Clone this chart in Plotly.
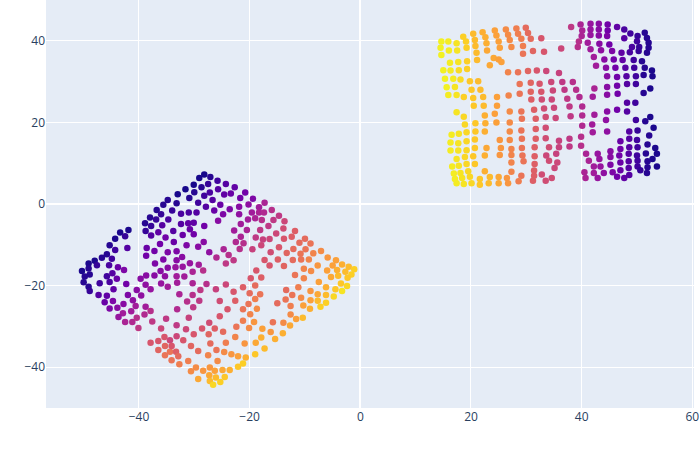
import plotly.graph_objects as go

# ---- left cluster (diamond) ----
left_x = [
-34.8,-35.6,-36.8,-36.0,-38.0,-36.9,-34.7,-38.9,-37.8,-35.8,
-38.8,-36.5,-37.8,-35.2,-41.9,-43.4,-42.5,-44.3,-45.3,-44.3,
-42.1,-38.6,-37.2,-36.2,-34.8,-38.7,-45.8,-46.7,-44.9,-48.0,
-49.1,-47.6,-45.4,-49.1,-43.8,-35.6,-37.1,-34.8,-50.3,-42.7,
-36.1,-38.7,-37.2,-45.8,-44.8,-48.9,-49.8,-39.7,-44.0,-35.3,
-50.0,-49.1,-48.9,-47.1,-45.3,-42.3,-44.6,-47.3,-45.8,-46.2,
-44.7,-45.3,-43.9,-42.8,-42.0,-41.1,-40.6,-41.4,-42.9,-43.7,
-42.5,-41.2,-40.4,-39.0,-38.8,-37.9,-40.4,-39.6,-38.8,-37.9,
-36.0,-34.8,-37.6,-40.1,-36.0,-35.1,-37.9,-36.5,-35.4,-36.5,-35.3,-34.4,-35.3,
-28.2,-29.1,-27.1,-30.1,-28.7,-27.5,-25.8,-31.6,-30.0,-27.2,
-25.7,-24.3,-22.7,-33.0,-30.9,-28.2,-26.7,-24.6,-23.4,-21.7,
-20.8,-19.4,-33.2,-29.3,-27.9,-25.3,-23.6,-26.4,-21.9,-20.2,
-18.3,-17.3,-34.0,-32.4,-31.0,-29.6,-24.8,-21.9,-19.6,-18.3,
-17.4,-25.7,-20.3,-19.0,-17.8,-32.4,-31.1,-30.1,-28.2,-21.6,
-22.8,-20.5,-18.1,-33.8,-32.1,-30.8,-30.1,-18.9,-17.6,-21.6,
-22.5,-21.1,-33.7,-31.4,-29.3,-28.3,-27.3,-21.8,-19.5,-17.9,
-24.7,-23.8,-26.0,-22.9,-24.3,-33.2,-32.2,-33.2,-30.8,-29.2,
-33.4,-32.1,-18.8,-33.2,-31.8,-30.3,-28.4,-19.8,-17.9,
-16.0,-14.7,-15.7,-13.7,-16.6,-15.2,-13.9,-11.8,-16.4,-13.8,
-12.4,-11.0,-10.0,-9.0,-14.7,-16.2,-13.3,-12.1,-10.8,-9.9,
-8.5,-7.1,-5.9,-4.4,-3.3,-2.1,-1.1,-17.3,-14.9,-12.2,
-10.7,-9.3,-7.7,-5.0,-4.2,-2.7,-1.6,-2.3,-16.4,-13.8,
-10.2,-8.9,-6.0,-11.8,-10.2,-5.3,-4.0,
-33.1,-30.3,-27.8,-24.3,-21.2,-19.0,-32.7,-30.3,-28.9,-26.1,
-22.9,-20.0,-18.1,-31.3,-29.1,-25.4,-22.6,-20.2,-19.0,-30.2,
-24.0,-21.2,-18.7,-33.1,-19.9,-31.0,-25.4,-27.3,-26.3,-33.2,
-31.5,-28.6,-27.4,-24.8,-22.4,-21.2,-20.1,-19.2,-17.7,-33.2,
-32.0,-30.1,-27.1,-26.0,-24.3,-22.6,-20.9,-18.9,-17.9,-34.4,
-34.1,-33.3,-30.6,-29.3,-34.1,-32.9,-31.1,-27.5,-25.8,-24.6,
-23.3,-22.1,-20.7,-19.0,-32.7,-29.7,-28.4,-27.2,-26.3,-24.9,
-23.6,-22.1,-21.2,-30.6,-29.3,-27.3,-27.2,-26.1,-25.3,-24.5,-26.6,
-7.5,-3.5,-11.2,-6.2,-4.5,-2.4,-3.3,-13.4,-12.3,-9.0,
-7.7,-6.2,-4.8,-10.7,-13.5,-9.0,-7.7,-6.2,-15.0,-12.6,
-10.3,-9.1,-7.2,-12.6,-11.6,-10.4,-15.8,-13.9,-12.7,-16.2,
-14.0,-15.4,-17.3,
]
left_y = [
1.0,-0.2,-1.5,-2.5,-3.3,-3.8,-3.8,-4.7,-5.4,-5.2,
-6.6,-6.9,-7.7,-8.2,-6.4,-7.0,-7.9,-8.5,-10.1,-11.3,
-10.8,-10.8,-11.5,-9.8,-11.8,-12.7,-12.3,-13.2,-13.4,-13.9,
-14.6,-15.0,-15.0,-15.8,-15.5,-13.6,-14.6,-15.6,-16.4,-16.2,
-16.4,-17.5,-17.5,-17.7,-17.0,-17.3,-17.8,-18.3,-18.3,-17.7,
-19.2,-20.3,-21.3,-19.4,-19.1,-19.6,-20.9,-22.3,-22.5,-24.1,
-23.8,-25.6,-25.4,-24.5,-22.3,-23.6,-25.0,-26.3,-26.8,-27.7,
-28.9,-28.9,-27.9,-27.1,-25.2,-26.2,-21.1,-22.4,-19.8,-20.9,
-19.5,-20.3,-28.8,-30.4,-30.5,-28.1,-34.0,-33.6,-32.6,-35.8,-34.8,-36.2,-37.1,
7.2,6.4,6.6,4.7,4.1,4.9,5.7,3.6,2.9,2.8,
3.6,4.9,4.1,2.4,1.5,2.0,1.0,2.3,2.6,1.5,
2.8,1.3,0.2,0.3,-0.7,-0.2,-1.3,-1.6,-0.7,-0.1,
-0.8,0.3,-1.6,-2.4,-2.1,-2.1,-2.5,-2.5,-2.1,-2.1,
-2.1,-4.1,-3.8,-3.5,-3.9,-4.9,-4.7,-4.6,-5.4,-4.9,
-6.5,-6.4,-6.4,-6.6,-7.6,-6.2,-7.4,-8.2,-8.7,-8.0,
-9.3,-9.6,-9.3,-10.1,-10.5,-9.3,-11.8,-11.0,-11.1,-10.1,
-11.1,-12.5,-13.1,-13.8,-14.6,-11.6,-13.0,-13.8,-14.5,-14.9,
-15.5,-15.4,-16.3,-17.7,-17.8,-16.6,-16.3,-18.2,-18.0,
-1.5,-2.9,-3.9,-4.2,-5.4,-7.2,-6.0,-6.6,-8.6,-8.5,
-8.0,-9.5,-8.5,-9.7,-10.6,-11.8,-12.0,-11.0,-12.2,-11.1,
-12.1,-11.5,-13.1,-13.8,-14.8,-15.4,-16.0,-13.7,-13.6,-13.7,
-13.6,-13.6,-15.1,-15.1,-16.2,-16.6,-17.3,-18.1,-15.1,-15.2,
-15.9,-16.4,-16.3,-17.4,-18.2,-17.9,-17.6,
-19.3,-19.4,-19.6,-19.7,-20.4,-20.0,-22.1,-22.3,-21.1,-20.9,
-21.5,-21.9,-22.1,-23.9,-23.7,-23.8,-23.7,-24.5,-23.3,-25.3,
-25.8,-25.8,-25.7,-25.8,-27.0,-27.9,-27.5,-29.1,-30.5,-29.7,
-30.7,-30.5,-31.9,-31.3,-30.1,-28.6,-30.4,-28.9,-30.6,-32.4,
-33.4,-31.9,-34.2,-35.8,-34.0,-32.6,-34.2,-34.0,-32.7,-33.4,
-34.8,-36.2,-34.8,-36.0,-38.3,-37.3,-38.5,-37.1,-38.5,-36.3,
-36.8,-37.3,-37.6,-36.8,-39.3,-40.1,-40.9,-40.1,-40.9,-40.7,
-40.7,-39.9,-39.1,-41.0,-42.9,-42.0,-43.4,-42.5,-43.6,-42.4,-44.3,
-19.1,-19.5,-20.4,-20.4,-20.9,-20.1,-21.3,-21.1,-22.3,-21.3,
-22.1,-22.3,-22.7,-23.0,-23.4,-23.6,-23.7,-24.2,-24.3,-25.0,
-24.9,-25.7,-25.2,-27.1,-28.2,-27.9,-29.0,-29.1,-29.8,-31.4,
-31.7,-33.1,-35.4,
]
left_c = [
.05,.05,.05,.08,.05,.08,.12,.05,.08,.15,
.08,.18,.15,.22,.03,.03,.08,.03,.05,.10,
.15,.20,.22,.22,.25,.22,.05,.05,.10,.03,
.03,.08,.12,.05,.20,.25,.25,.28,.03,.25,
.28,.28,.28,.10,.15,.05,.05,.28,.20,.30,
.05,.05,.08,.10,.12,.22,.18,.15,.18,.20,
.25,.25,.28,.28,.25,.30,.35,.35,.35,.32,
.38,.40,.42,.40,.35,.42,.28,.30,.30,.32,
.32,.35,.45,.45,.50,.45,.55,.55,.55,.60,.60,.65,.65,
.02,.02,.05,.02,.05,.08,.10,.02,.05,.12,
.15,.15,.18,.02,.05,.10,.15,.18,.20,.22,
.22,.25,.05,.10,.15,.20,.25,.20,.28,.30,
.35,.38,.08,.12,.12,.15,.25,.30,.35,.38,
.40,.28,.35,.38,.42,.15,.18,.18,.22,.35,
.35,.38,.45,.15,.20,.20,.22,.45,.48,.38,
.40,.42,.20,.25,.28,.28,.30,.42,.48,.50,
.38,.42,.40,.45,.45,.25,.28,.28,.32,.35,
.32,.32,.55,.35,.35,.38,.42,.55,.58,
.42,.45,.45,.50,.45,.50,.52,.58,.50,.55,
.58,.62,.62,.65,.55,.52,.60,.62,.65,.65,
.70,.72,.75,.78,.82,.85,.90,.55,.58,.62,
.65,.70,.75,.78,.82,.85,.90,.88,.55,.60,
.70,.72,.78,.65,.70,.80,.85,
.35,.38,.42,.50,.58,.62,.38,.42,.45,.48,
.55,.62,.65,.42,.45,.52,.58,.65,.68,.45,
.55,.65,.72,.40,.70,.48,.55,.52,.58,.45,
.50,.55,.60,.62,.65,.68,.72,.75,.78,.50,
.55,.55,.62,.65,.68,.70,.75,.80,.82,.50,
.55,.58,.60,.62,.65,.62,.68,.70,.72,.72,
.75,.78,.82,.88,.68,.72,.75,.75,.78,.80,
.82,.88,.90,.72,.80,.80,.85,.85,.90,.88,.92,
.78,.88,.68,.82,.88,.92,.95,.62,.65,.75,
.80,.85,.92,.72,.65,.78,.85,.90,.62,.68,
.78,.82,.90,.72,.78,.85,.65,.72,.80,.75,
.82,.82,.85,
]

# ---- right cluster ----
right_x = [
14.65,15.9,17.4,18.6,19.1,20.4,20.7,22.1,22.6,22.8,
24.3,24.6,25.0,25.2,26.3,26.7,27.0,27.3,28.2,28.5,
29.1,29.4,29.9,30.3,30.8,32.7,
14.5,14.65,16.0,17.5,19.2,20.8,21.0,22.9,16.2,17.7,
19.3,21.1,24.1,25.0,25.5,23.4,29.4,31.2,33.2,15.0,
16.3,17.8,19.3,26.7,28.5,30.3,31.9,33.6,15.3,16.8,
18.1,19.8,21.3,15.6,17.1,20.1,21.7,28.8,30.8,32.4,
15.9,17.4,18.7,20.4,22.2,24.7,26.8,28.8,30.8,32.7,32.8,30.9,
38.1,39.8,41.6,43.1,44.7,46.4,47.7,40.1,41.6,43.1,
44.7,48.8,50.1,51.4,40.0,41.6,43.1,44.6,47.7,50.0,
51.8,39.5,41.1,43.2,45.0,49.1,50.4,52.1,52.1,39.3,
41.6,43.5,45.5,47.2,48.7,50.3,51.8,36.3,42.2,44.1,
45.8,47.4,49.4,50.9,42.6,44.4,46.1,47.9,49.5,51.4,
52.7,35.9,44.6,46.4,48.1,49.8,51.2,52.8,34.5,36.5,
38.4,42.3,44.6,46.4,48.2,49.8,52.4,34.8,36.9,39.0,
34.6,37.4,39.6,42.0,44.6,46.5,51.2,48.2,49.7,
35.0,37.8,40.1,44.6,46.4,48.2,35.3,38.0,40.1,42.3,
44.4,49.8,51.5,52.4,40.1,41.9,42.0,44.6,48.6,50.1,
53.0,52.2,35.9,37.8,39.9,39.9,37.8,35.9,34.1,47.0,
48.6,50.0,51.9,53.3,47.0,48.6,50.1,40.8,42.9,45.2,
35.4,34.1,35.6,35.1,34.6,41.3,43.2,45.2,46.8,48.5,
50.0,51.6,52.8,53.6,42.2,43.4,45.2,47.0,48.5,50.1,
51.9,53.6,40.5,42.2,44.0,45.6,47.0,48.5,50.1,51.9,
40.7,42.9,46.4,47.7,48.6,50.6,51.8,
17.4,18.7,20.5,22.3,24.7,27.0,29.1,31.4,33.2,22.5,
24.3,29.2,31.7,33.5,18.9,20.8,22.6,24.6,27.0,16.5,
17.8,19.2,20.8,22.5,27.0,29.1,31.7,33.5,16.3,17.7,
19.2,20.7,25.2,27.0,29.2,31.7,33.5,16.3,17.7,19.2,
20.7,22.8,25.4,27.3,29.2,31.5,17.4,18.9,20.4,22.5,
25.2,27.3,29.3,31.5,33.6,16.6,17.8,19.2,20.7,27.3,
29.5,31.5,16.9,18.1,19.5,22.5,27.3,31.4,32.8,17.1,
18.4,19.8,21.6,23.4,25.0,26.5,29.1,31.4,17.4,18.7,
20.1,21.6,23.2,25.0,26.7,28.6,31.2,33.5,
]
right_y = [
39.8,39.8,39.4,41.0,39.8,41.7,40.2,42.1,40.9,39.4,
42.5,41.3,39.8,38.3,42.8,41.5,40.2,38.5,43.0,41.7,
40.5,38.7,43.2,41.9,40.5,40.6,
38.3,36.5,37.6,37.6,38.3,38.7,37.1,37.6,34.6,34.8,
35.0,35.3,35.8,35.4,34.8,34.0,36.8,37.5,37.3,32.8,
32.7,32.8,33.1,32.3,32.3,32.6,32.7,32.6,30.7,30.7,
30.5,30.1,30.1,28.6,28.7,28.0,28.0,29.4,29.7,29.5,
26.7,26.7,26.2,26.0,26.2,26.2,26.6,27.0,27.5,27.5,25.6,25.6,
43.4,44.0,44.2,44.2,44.0,43.4,42.8,42.5,42.8,42.8,
42.5,41.8,41.2,42.0,41.2,41.4,41.3,41.2,40.6,39.9,
40.7,39.8,39.5,39.3,39.1,38.5,38.5,39.5,38.3,38.5,
37.9,37.7,37.5,37.1,37.2,37.5,37.1,38.1,36.0,35.4,
35.4,35.3,35.3,35.0,33.9,33.4,33.4,33.4,33.4,33.4,
32.7,32.1,31.3,31.1,31.3,31.3,31.6,31.3,29.9,29.9,
29.9,28.3,28.7,29.0,29.4,29.4,28.3,27.8,28.0,28.0,
25.6,25.8,26.2,26.3,26.8,27.0,27.2,24.8,24.8,
23.6,23.9,23.9,22.7,23.1,22.7,21.1,21.5,21.7,21.9,
20.6,20.6,20.3,21.3,19.2,19.5,17.6,17.8,17.8,18.0,
18.7,16.8,15.5,16.0,16.5,14.3,14.1,13.9,13.9,15.4,
16.0,15.7,14.6,13.7,13.5,13.9,13.9,12.3,12.3,12.9,
12.3,10.6,10.2,8.8,6.4,10.6,11.0,11.5,11.9,12.3,
11.9,12.4,11.0,12.3,9.2,9.2,9.6,10.2,10.5,10.6,
10.5,9.2,7.8,7.6,7.6,7.8,8.3,8.8,9.2,9.0,
6.4,6.4,6.7,6.4,7.1,8.3,7.6,
22.5,21.4,24.1,24.1,24.1,22.7,22.7,23.1,23.4,21.7,
22.1,20.9,20.9,21.3,19.5,19.8,19.8,20.0,20.0,17.0,
17.2,17.6,17.8,17.8,17.8,18.0,18.4,18.7,15.1,14.9,
15.4,15.8,15.7,15.7,16.0,16.0,16.1,13.1,13.1,13.2,
13.7,13.7,13.7,13.5,13.7,13.9,11.0,11.5,11.7,11.9,
12.0,12.0,11.9,11.7,11.9,9.2,9.4,9.8,9.8,10.2,
10.5,9.8,7.5,7.6,8.0,8.0,7.9,8.2,7.2,6.1,
6.4,6.7,6.1,6.6,6.6,6.4,6.9,6.9,5.1,4.9,
5.1,4.7,5.1,5.1,5.1,5.6,5.7,5.7,
]
right_c = [
.98,.97,.95,.90,.90,.85,.85,.82,.82,.82,
.78,.78,.78,.78,.72,.72,.72,.72,.68,.68,
.68,.68,.62,.62,.62,.55,
.98,.98,.97,.95,.90,.85,.85,.80,.97,.95,
.90,.85,.80,.78,.78,.80,.65,.60,.55,.98,
.97,.93,.90,.70,.65,.60,.55,.50,.98,.97,
.93,.88,.85,.98,.95,.88,.85,.65,.60,.55,
.97,.95,.90,.88,.85,.78,.70,.65,.60,.55,.52,.58,
.45,.38,.32,.28,.22,.18,.12,.38,.32,.28,
.22,.10,.08,.05,.38,.32,.28,.25,.15,.10,
.05,.42,.35,.28,.22,.12,.08,.05,.05,.42,
.35,.30,.25,.18,.12,.08,.05,.50,.35,.28,
.22,.18,.10,.05,.35,.28,.22,.15,.10,.05,
.03,.48,.28,.22,.15,.10,.05,.03,.50,.45,
.42,.38,.28,.22,.15,.10,.03,.50,.45,.42,
.50,.45,.40,.35,.28,.22,.05,.15,.10,
.50,.45,.40,.28,.22,.15,.50,.45,.40,.35,
.30,.10,.05,.03,.40,.35,.35,.30,.15,.08,
.03,.05,.48,.45,.42,.42,.45,.48,.52,.20,
.15,.10,.05,.03,.22,.15,.10,.38,.32,.28,
.48,.52,.50,.50,.52,.38,.32,.28,.22,.15,
.10,.05,.03,.03,.35,.32,.25,.20,.15,.10,
.05,.03,.38,.35,.30,.25,.20,.15,.10,.05,
.38,.32,.22,.18,.15,.08,.05,
.95,.92,.88,.85,.78,.72,.65,.58,.52,.82,
.78,.65,.58,.52,.92,.88,.82,.78,.72,.97,
.95,.92,.88,.82,.72,.65,.58,.52,.97,.95,
.92,.88,.75,.72,.65,.58,.52,.97,.95,.92,
.88,.80,.75,.70,.65,.58,.95,.92,.88,.82,
.75,.70,.65,.58,.50,.97,.95,.92,.88,.70,
.65,.58,.97,.95,.92,.82,.70,.58,.52,.97,
.95,.92,.88,.85,.80,.75,.65,.58,.97,.95,
.92,.88,.85,.80,.75,.68,.58,.52,
]

x_vals = left_x + right_x
y_vals = left_y + right_y
c_vals = left_c + right_c

fig = go.Figure(
    go.Scatter(
        x=x_vals, y=y_vals, mode="markers",
        marker=dict(color=c_vals, colorscale="Plasma", cmin=0, cmax=1,
                    size=6.5, showscale=False),
        showlegend=False,
    )
)
fig.update_layout(
    template="plotly",
    width=700, height=450,
    margin=dict(l=46, r=6, t=0, b=42),
)
fig.update_xaxes(range=[-56.8, 60.3], dtick=20)
fig.update_yaxes(range=[-50, 50], dtick=20)
fig.write_html(
    "out.html",
    config={"displayModeBar": False},
    post_script="document.body.style.margin='0px';document.body.style.overflow='hidden';",
)
